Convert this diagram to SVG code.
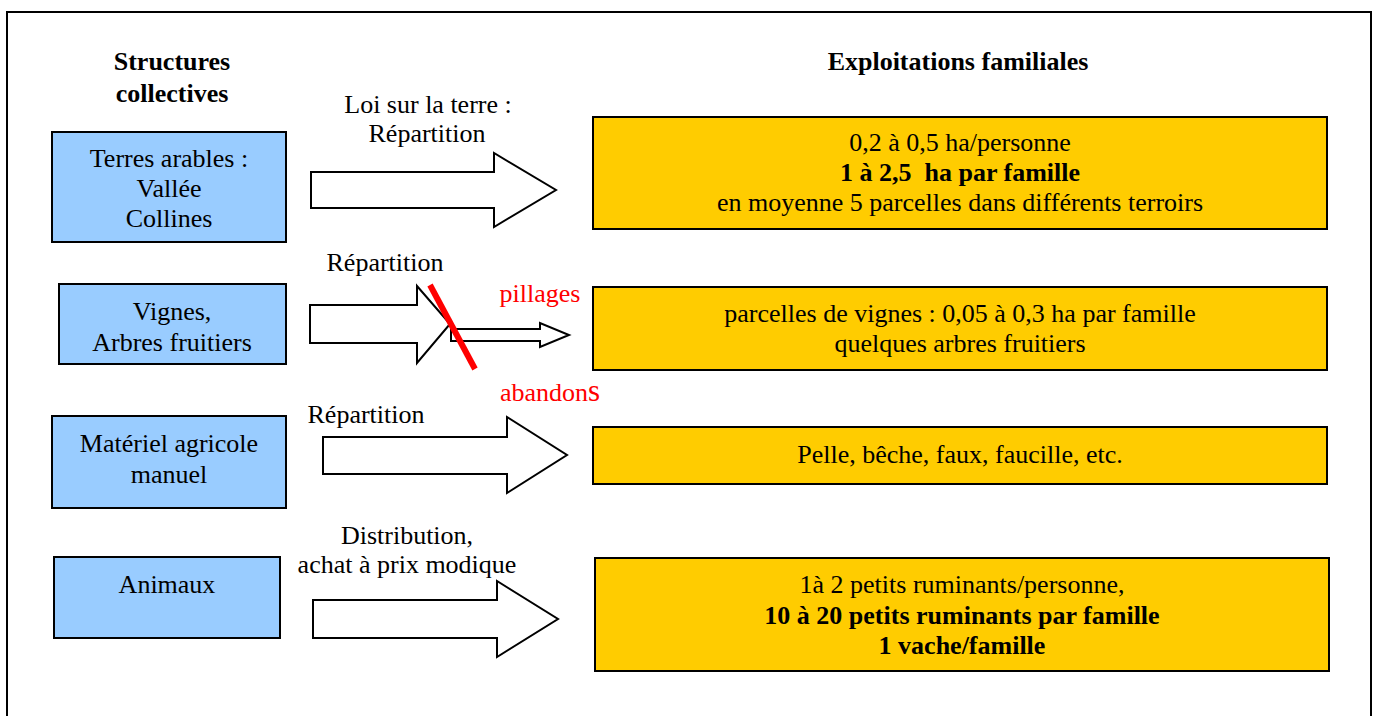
<svg xmlns="http://www.w3.org/2000/svg" width="1374" height="716" viewBox="0 0 1374 716">
<defs>
<style>
.blue{fill:#99ccff;stroke:#000;stroke-width:2}
.yel{fill:#ffcc00;stroke:#000;stroke-width:2}
.arr{fill:#fff;stroke:#000;stroke-width:2;stroke-linejoin:miter}
</style>
</defs>
<rect x="7" y="12" width="1364" height="720" fill="#fff" stroke="#000" stroke-width="2"/>
<g id="headers" font-family="Liberation Serif" font-size="26" font-weight="bold" text-anchor="middle">
<text x="172" y="70">Structures</text>
<text x="172" y="102">collectives</text>
<text x="958" y="70">Exploitations familiales</text>
</g>
<g id="src-terres" font-family="Liberation Serif" font-size="26" text-anchor="middle"><rect class="blue" x="52" y="132" width="234" height="110"/>
<text x="169" y="167">Terres arables :</text><text x="169" y="197">Vallée</text><text x="169" y="227">Collines</text></g>
<g id="src-vignes" font-family="Liberation Serif" font-size="26" text-anchor="middle"><rect class="blue" x="59" y="284" width="227" height="80"/>
<text x="172" y="320">Vignes,</text><text x="172" y="351">Arbres fruitiers</text></g>
<g id="src-materiel" font-family="Liberation Serif" font-size="26" text-anchor="middle"><rect class="blue" x="52" y="416" width="234" height="92"/>
<text x="169" y="452">Matériel agricole</text><text x="169" y="483">manuel</text></g>
<g id="src-animaux" font-family="Liberation Serif" font-size="26" text-anchor="middle"><rect class="blue" x="54" y="557" width="226" height="81"/>
<text x="167" y="593">Animaux</text></g>
<g id="dst-terres" font-family="Liberation Serif" font-size="26" text-anchor="middle"><rect class="yel" x="593" y="117" width="734" height="112"/>
<text x="960" y="151">0,2 à 0,5 ha/personne</text>
<text font-weight="bold" x="960" y="181" xml:space="preserve">1 à 2,5  ha par famille</text>
<text x="960" y="211">en moyenne 5 parcelles dans différents terroirs</text></g>
<g id="dst-vignes" font-family="Liberation Serif" font-size="26" text-anchor="middle"><rect class="yel" x="593" y="287" width="734" height="83"/>
<text x="960" y="322">parcelles de vignes : 0,05 à 0,3 ha par famille</text>
<text x="960" y="352">quelques arbres fruitiers</text></g>
<g id="dst-materiel" font-family="Liberation Serif" font-size="26" text-anchor="middle"><rect class="yel" x="593" y="427" width="734" height="57"/>
<text x="960" y="463">Pelle, bêche, faux, faucille, etc.</text></g>
<g id="dst-animaux" font-family="Liberation Serif" font-size="26" text-anchor="middle"><rect class="yel" x="595" y="558" width="734" height="113"/>
<text x="962" y="593">1à 2 petits ruminants/personne,</text>
<text font-weight="bold" x="962" y="624">10 à 20 petits ruminants par famille</text>
<text font-weight="bold" x="962" y="654">1 vache/famille</text></g>
<g id="connectors" font-family="Liberation Serif" font-size="26" text-anchor="middle">
<path class="arr" d="M311,172 H494 V153 L556,190 L494,227 V208 H311 Z"/>
<text x="428" y="113">Loi sur la terre :</text>
<text x="427" y="142">Répartition</text>
<path class="arr" d="M310,305 H417 V286 L450,324 L417,363 V343 H310 Z"/>
<path class="arr" d="M451,329 H540 V323 L569,335 L540,347 V341 H451 Z"/>
<line x1="430" y1="285" x2="475" y2="369" stroke="#ff0000" stroke-width="6"/>
<text x="385" y="271">Répartition</text>
<text fill="#ff0000" x="540" y="302">pillages</text>
<text fill="#ff0000" x="550" y="401">abandon<tspan font-size="31">s</tspan></text>
<path class="arr" d="M323,437 H507 V417 L567,455 L507,493 V474 H323 Z"/>
<text x="366" y="423">Répartition</text>
<path class="arr" d="M313,600 H497 V581 L558,619 L497,657 V638 H313 Z"/>
<text x="407" y="544">Distribution,</text>
<text x="407" y="573">achat à prix modique</text>
</g>
</svg>
